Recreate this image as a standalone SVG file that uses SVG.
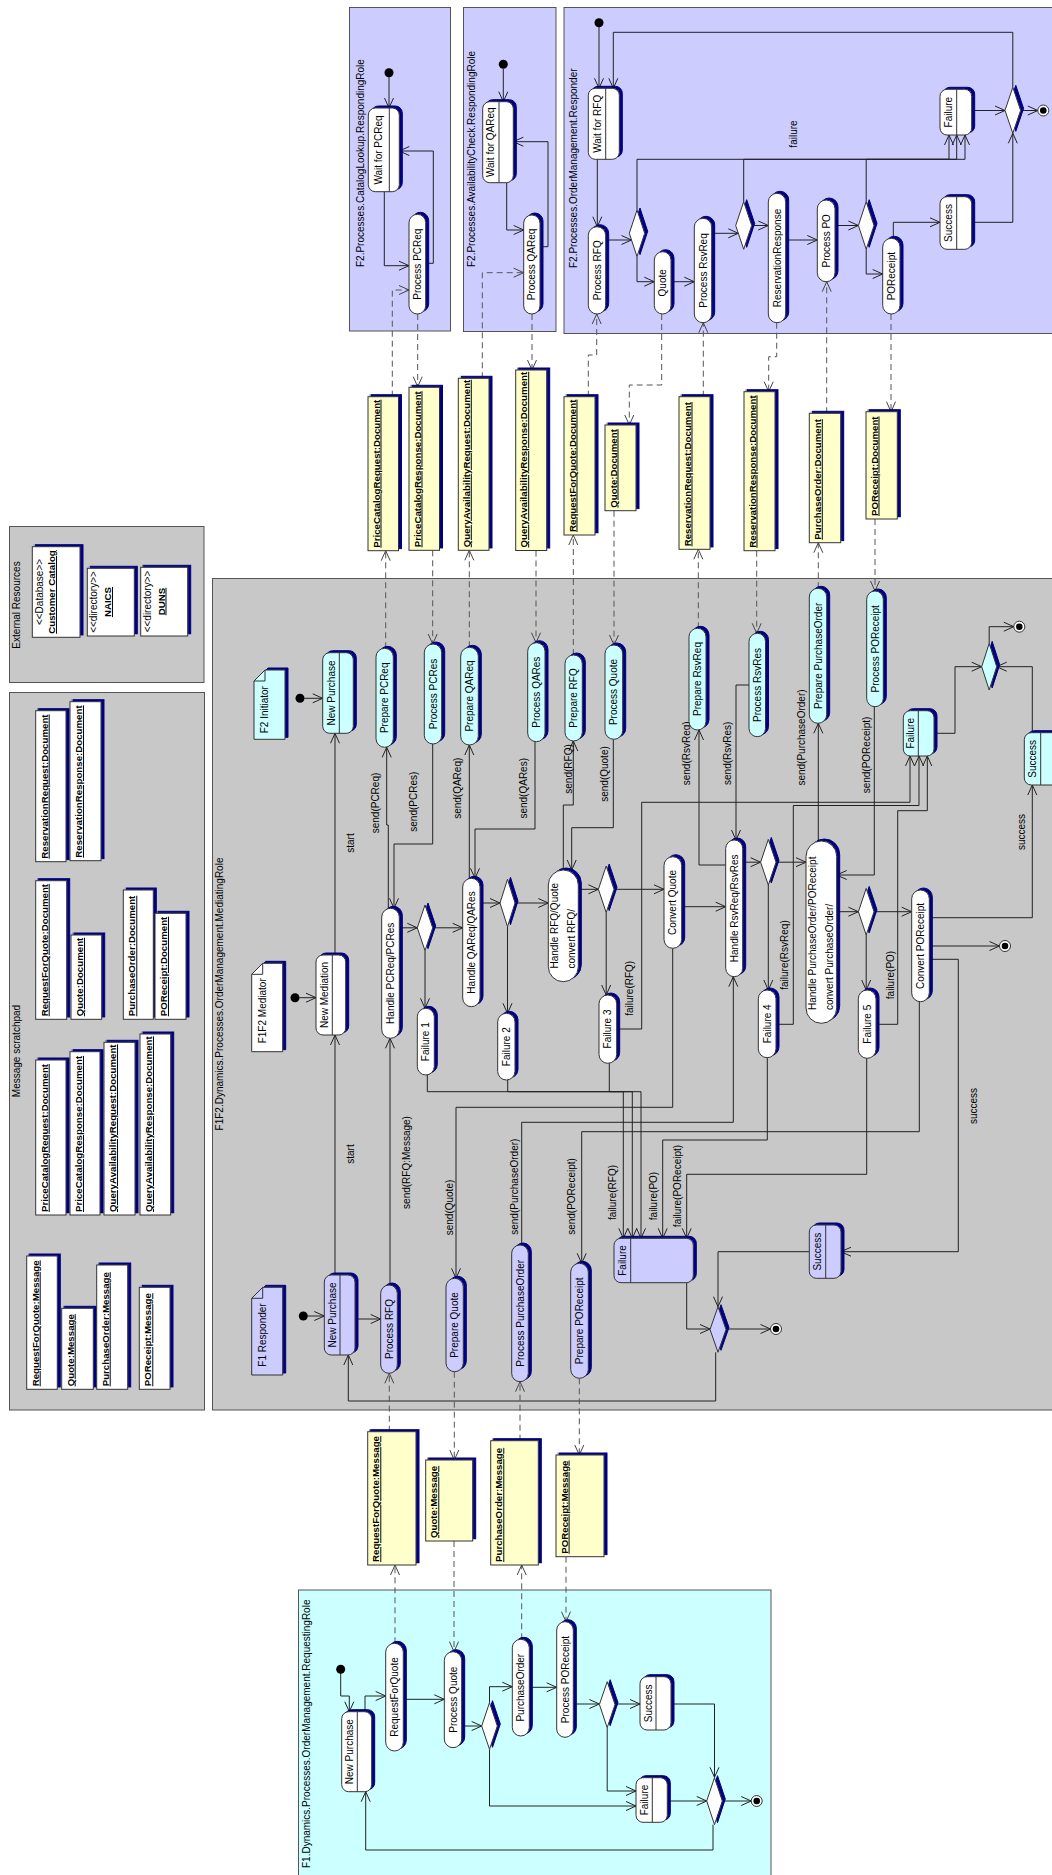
<svg xmlns="http://www.w3.org/2000/svg" width="1052" height="1875" viewBox="0 0 1052 1875">
<defs>
<filter id="sh" x="-50%" y="-50%" width="200%" height="200%">
<feFlood flood-color="#000080"/>
<feComposite in2="SourceAlpha" operator="in"/>
<feOffset dx="2.5" dy="-2.5"/>
<feMerge><feMergeNode/><feMergeNode in="SourceGraphic"/></feMerge>
</filter>
<marker id="ar" viewBox="0 0 12 12" refX="11" refY="6" markerWidth="12" markerHeight="12" markerUnits="userSpaceOnUse" orient="auto"><path d="M1,1.5 L11,6 L1,10.5" fill="none" stroke="#222" stroke-width="1"/></marker>
<marker id="ad" viewBox="0 0 12 12" refX="11" refY="6" markerWidth="12" markerHeight="12" markerUnits="userSpaceOnUse" orient="auto"><path d="M1,1.5 L11,6 L1,10.5" fill="none" stroke="#444" stroke-width="1"/></marker>
<style>
.box{stroke:#555;stroke-width:1}
.n{fill:#fff;stroke:#333;stroke-width:1;filter:url(#sh)}
.cy{fill:#ccffff}
.lv{fill:#ccccff}
.doc{fill:#ffffcc;stroke:#333;stroke-width:1;filter:url(#sh)}
.dv{stroke:#333;stroke-width:1}
.c{fill:none;stroke:#222;stroke-width:1;marker-end:url(#ar)}
.d{fill:none;stroke:#555;stroke-width:1;stroke-dasharray:6 4;marker-end:url(#ad)}
text{font-family:"Liberation Sans",Arial,sans-serif;font-size:10px;fill:#000}
.m{text-anchor:middle;dominant-baseline:central}
.mt{text-anchor:middle}
.b{font-weight:bold;font-size:9.7px;text-decoration:underline}
.dot{fill:#000}
.fo{fill:#fff;stroke:#333;stroke-width:1}
</style>
</defs>
<rect width="1052" height="1875" fill="#fff"/>

<g id="containers">
<rect class="box" x="349.5" y="7.5" width="101" height="323.5" fill="#ccccff"/>
<text transform="translate(364,267) rotate(-90)">F2.Processes.CatalogLookup.RespondingRole</text>
<rect class="box" x="463.5" y="7.5" width="92.5" height="324" fill="#ccccff"/>
<text transform="translate(475,267) rotate(-90)">F2.Processes.AvailabilityCheck.RespondingRole</text>
<rect class="box" x="564" y="7.5" width="500" height="326" fill="#ccccff"/>
<text transform="translate(576.5,268) rotate(-90)">F2.Processes.OrderManagement.Responder</text>
<rect class="box" x="9.5" y="526.5" width="194.5" height="156" fill="#c8c8c8"/>
<text class="mt" transform="translate(19.5,605) rotate(-90)">External Resources</text>
<rect class="box" x="9.5" y="692.5" width="195" height="717.5" fill="#c8c8c8"/>
<text class="mt" transform="translate(19.5,1051) rotate(-90)">Message scratchpad</text>
<rect class="box" x="212.5" y="578.5" width="850" height="831.5" fill="#c8c8c8"/>
<text class="mt" transform="translate(222.5,994) rotate(-90)">F1F2.Dynamics.Processes.OrderManagement.MediatingRole</text>
<rect class="box" x="298.5" y="1590" width="472.5" height="300" fill="#ccffff"/>
<text transform="translate(309.5,1868) rotate(-90)">F1.Dynamics.Processes.OrderManagement.RequestingRole</text>
</g>

<g id="connectors">
<path class="c" d="M389,77 L389,108"/>
<path class="c" d="M384.3,191.7 L384.3,265.7 L409,265.7"/>
<path class="c" d="M425.7,263.3 L433.3,263.3 L433.3,151 L399.3,151"/>
<path class="d" d="M392.3,396.7 L392.3,290 L409,290"/>
<path class="d" d="M417.7,314 L417.7,386.7"/>
<path class="c" d="M503.3,69 L503.3,101.7"/>
<path class="c" d="M506.7,182.7 L506.7,230 L523.7,230"/>
<path class="c" d="M540,246.7 L548,246.7 L548,141.7 L513.3,141.7"/>
<path class="d" d="M482.3,378.3 L482.3,272.7 L523.7,272.7"/>
<path class="d" d="M532,314 L532,370"/>
<path class="c" d="M599,27 L599,88.3"/>
<path class="c" d="M1012.8,87.3 L1012.8,32.3 L613.3,32.3 L613.3,88.3"/>
<path class="c" d="M597.3,159.3 L597.3,226.7"/>
<path class="c" d="M605.7,240 L631.5,240"/>
<path class="c" d="M637,210 L637,159.3 L949,159.3 L949,135"/>
<path class="c" d="M743.7,201.7 L743.7,159.3 L956.7,159.3 L956.7,135"/>
<path class="c" d="M866.2,201.7 L866.2,159.3 L965,159.3 L965,135"/>
<path class="c" d="M637,256.6 L637,281.7 L654.3,281.7"/>
<path class="c" d="M671,281.7 L694.3,281.7"/>
<path class="c" d="M711.7,233.3 L738.3,233.3"/>
<path class="c" d="M751.7,225.5 L768.3,225.5"/>
<path class="c" d="M785.7,240 L817.3,240"/>
<path class="c" d="M835,225.5 L858.4,225.5"/>
<path class="c" d="M866.2,249.3 L866.2,274 L882.7,274"/>
<path class="c" d="M893.3,238.3 L893.3,222.3 L940,222.3"/>
<path class="c" d="M971.7,222.3 L1012.8,222.3 L1012.8,133.3"/>
<path class="c" d="M971.7,110.5 L1005,110.5"/>
<path class="c" d="M1020.6,110.5 L1037.8,110.5"/>
<path class="d" d="M588.3,396.7 L588.3,355 L596.7,355 L596.7,314"/>
<path class="d" d="M661.7,314 L661.7,385 L629.3,385 L629.3,425"/>
<path class="d" d="M703.3,396.7 L703.3,322.7"/>
<path class="d" d="M776.7,322.7 L776.7,356.7 L768.7,356.7 L768.7,391.7"/>
<path class="d" d="M826.7,413.3 L826.7,281.7"/>
<path class="d" d="M891,314 L891,411.7"/>

<path class="d" d="M385.7,648.3 L385.7,550.7"/>
<path class="d" d="M432.7,550.3 L432.7,644"/>
<path class="d" d="M469.3,647.3 L469.3,550.3"/>
<path class="d" d="M536,550.5 L536,642.7"/>
<path class="d" d="M573.3,655 L573.3,535"/>
<path class="d" d="M614,510.7 L614,645"/>
<path class="d" d="M698.3,628.3 L698.3,549.3"/>
<path class="d" d="M756.7,550.7 L756.7,633.3"/>
<path class="d" d="M818.3,588.3 L818.3,542.7"/>
<path class="d" d="M875,519 L875,591"/>

<path class="c" d="M304.5,698.3 L322.7,698.3"/>
<path class="c" d="M299.5,997.7 L316,997.7"/>
<path class="c" d="M307.8,1316 L324.3,1316"/>
<path class="c" d="M335,955 L335,733.3"/>
<path class="c" d="M335,1275 L335,1035"/>
<path class="c" d="M355,1319 L380.7,1319"/>
<path class="c" d="M390,1285 L390,1038.3"/>
<path class="c" d="M388.3,908.3 L388.3,825 L386.7,825 L386.7,747.3"/>
<path class="c" d="M432.7,744 L432.7,844 L394,844 L394,908.3"/>
<path class="c" d="M399.3,927.8 L417.3,927.8"/>
<path class="c" d="M432.7,927.8 L462.7,927.8"/>
<path class="c" d="M425,950.6 L425,1008.3"/>
<path class="c" d="M469.3,878.3 L469.3,745"/>
<path class="c" d="M535,741.7 L535,829 L475,829 L475,878.3"/>
<path class="c" d="M480,903 L500,903"/>
<path class="c" d="M515,903 L548.3,903"/>
<path class="c" d="M507.5,926.7 L507.5,1013.3"/>
<path class="c" d="M563.3,870 L563.3,805 L573.3,805 L573.3,741"/>
<path class="c" d="M613.3,739.3 L613.3,827.7 L571.7,827.7 L571.7,870"/>
<path class="c" d="M578.3,889.3 L598.4,889.3"/>
<path class="c" d="M614,889.3 L664,889.3"/>
<path class="c" d="M606.2,912.6 L606.2,995"/>
<path class="c" d="M681.7,906.7 L725.7,906.7"/>
<path class="c" d="M725.7,865 L699,865 L699,730"/>
<path class="c" d="M749,685 L736,685 L736,840"/>
<path class="c" d="M742.7,862.2 L760.6,862.2"/>
<path class="c" d="M776,862.2 L806,862.2"/>
<path class="c" d="M768.3,885 L768.3,990"/>
<path class="c" d="M818.3,841 L818.3,723.3"/>
<path class="c" d="M874.3,706.7 L874.3,875 L836.7,875"/>
<path class="c" d="M836.7,911.7 L858.4,911.7"/>
<path class="c" d="M874,911.7 L911.7,911.7"/>
<path class="c" d="M866.2,935 L866.2,990"/>
<path class="c" d="M929.3,946 L999.5,946"/>
<path class="c" d="M929.3,917.7 L1032.3,917.7 L1032.3,785"/>
<path class="c" d="M616.7,1029 L641.7,1029 L641.7,802.3 L910,802.3 L910,756"/>
<path class="c" d="M776,1024.3 L793.3,1024.3 L793.3,805.5 L919,805.5 L919,756"/>
<path class="c" d="M876,1024.3 L897.7,1024.3 L897.7,810.7 L927.3,810.7 L927.3,756"/>
<path class="c" d="M934,733.3 L955,733.3 L955,666.7 L981.7,666.7"/>
<path class="c" d="M1032.3,732.7 L1032.3,666.7 L996.7,666.7"/>
<path class="c" d="M989.2,643.4 L989.2,626.7 L1013.8,626.7"/>
<path class="c" d="M427.3,1075 L427.3,1091.7 L623.3,1091.7 L623.3,1238.3"/>
<path class="c" d="M507.7,1080 L507.7,1091.7 L632.3,1091.7 L632.3,1238.3"/>
<path class="c" d="M609.3,1063.3 L609.3,1091.7 L641,1091.7 L641,1238.3"/>
<path class="c" d="M767.3,1057.7 L767.3,1140 L662.7,1140 L662.7,1238.3"/>
<path class="c" d="M866.7,1058.3 L866.7,1174.3 L686.7,1174.3 L686.7,1238.3"/>
<path class="c" d="M919.3,1001.7 L919.3,1131.7 L581.7,1131.7 L581.7,1263.3"/>
<path class="c" d="M672.7,948.3 L672.7,1107.3 L456,1107.3 L456,1278.3"/>
<path class="c" d="M521.7,1245 L521.7,1122.3 L733.3,1122.3 L733.3,976.7"/>
<path class="c" d="M686.7,1282.7 L686.7,1329 L710,1329"/>
<path class="c" d="M809.3,1251.7 L718,1251.7 L718,1306.7"/>
<path class="c" d="M726,1329 L770.5,1329"/>
<path class="c" d="M715.7,1352.3 L715.7,1401 L348.3,1401 L348.3,1355"/>
<path class="c" d="M929.3,959.3 L958.3,959.3 L958.3,1251.7 L841,1251.7"/>

<path class="d" d="M389.3,1431.7 L389.3,1373.3"/>
<path class="d" d="M454.3,1371.7 L454.3,1460"/>
<path class="d" d="M520,1440.7 L520,1381.7"/>
<path class="d" d="M579.3,1378.3 L579.3,1455"/>
<path class="d" d="M395,1643.3 L395,1565"/>
<path class="d" d="M454,1541 L454,1651.7"/>
<path class="d" d="M521.7,1639.3 L521.7,1565"/>
<path class="d" d="M566,1556.7 L566,1621.7"/>

<path class="c" d="M340.7,1673 L340.7,1696 L349.3,1696 L349.3,1711.7"/>
<path class="c" d="M365,1711.7 L365,1696 L385.7,1696"/>
<path class="c" d="M403.3,1699.3 L444.3,1699.3"/>
<path class="c" d="M461.7,1726 L481.7,1726"/>
<path class="c" d="M489.5,1702.7 L489.5,1686.7 L512.3,1686.7"/>
<path class="c" d="M489.5,1749.3 L489.5,1806 L636,1806"/>
<path class="c" d="M529.3,1687.3 L556.7,1687.3"/>
<path class="c" d="M573.3,1704 L599.4,1704"/>
<path class="c" d="M615,1704 L640,1704"/>
<path class="c" d="M607.2,1727.7 L607.2,1791 L636,1791"/>
<path class="c" d="M671,1704 L714.5,1704 L714.5,1777.3"/>
<path class="c" d="M667.3,1801 L706.7,1801"/>
<path class="c" d="M722.3,1801 L751.2,1801"/>
<path class="c" d="M713,1824.7 L713,1850 L365.7,1850 L365.7,1791.7"/>

<g id="labels">
<text class="m" transform="translate(793.3,134) rotate(-90)">failure</text>
<text class="m" transform="translate(350.8,843) rotate(-90)">start</text>
<text class="m" transform="translate(350.8,1154) rotate(-90)">start</text>
<text class="m" transform="translate(406.7,1162.5) rotate(-90)">send(RFQ:Message)</text>
<text class="m" transform="translate(375.8,803) rotate(-90)">send(PCReq)</text>
<text class="m" transform="translate(413.3,801.7) rotate(-90)">send(PCRes)</text>
<text class="m" transform="translate(457.5,788.3) rotate(-90)">send(QAReq)</text>
<text class="m" transform="translate(523.3,788.3) rotate(-90)">send(QARes)</text>
<text class="m" transform="translate(568.3,769) rotate(-90)">send(RFQ)</text>
<text class="m" transform="translate(604.2,774) rotate(-90)">send(Quote)</text>
<text class="m" transform="translate(686.2,753.3) rotate(-90)">send(RsvReq)</text>
<text class="m" transform="translate(727.5,753.3) rotate(-90)">send(RsvRes)</text>
<text class="m" transform="translate(801,737.5) rotate(-90)">send(PurchaseOrder)</text>
<text class="m" transform="translate(866,755) rotate(-90)">send(POReceipt)</text>
<text class="m" transform="translate(1021.3,832) rotate(-90)">success</text>
<text class="m" transform="translate(629.2,988.3) rotate(-90)">failure(RFQ)</text>
<text class="m" transform="translate(784.2,955) rotate(-90)">failure(RsvReq)</text>
<text class="m" transform="translate(890.8,975) rotate(-90)">failure(PO)</text>
<text class="m" transform="translate(973.7,1106) rotate(-90)">success</text>
<text class="m" transform="translate(449.2,1207.5) rotate(-90)">send(Quote)</text>
<text class="m" transform="translate(514.2,1186.7) rotate(-90)">send(PurchaseOrder)</text>
<text class="m" transform="translate(571.8,1196.5) rotate(-90)">send(POReceipt)</text>
<text class="m" transform="translate(612.3,1192.5) rotate(-90)">failure(RFQ)</text>
<text class="m" transform="translate(653.3,1196) rotate(-90)">failure(PO)</text>
<text class="m" transform="translate(677.3,1186) rotate(-90)">failure(POReceipt)</text>
</g>
</g>

<!-- F2 CatalogLookup -->
<g id="cat-init"><circle class="dot" cx="389" cy="72.7" r="4.5"/></g>
<g id="cat-wait"><rect class="n" x="368.3" y="108" width="31" height="83.7" rx="7"/><line class="dv" x1="389.3" y1="108" x2="389.3" y2="191.7"/><text class="m" transform="translate(378.8,150) rotate(-90)">Wait for PCReq</text></g>
<g id="cat-proc"><rect class="n" x="409" y="214.3" width="16.7" height="99.7" rx="8.35"/><text class="m" transform="translate(417.3,264.2) rotate(-90)">Process PCReq</text></g>
<!-- F2 AvailabilityCheck -->
<g id="av-init"><circle class="dot" cx="503.3" cy="64.3" r="4.5"/></g>
<g id="av-wait"><rect class="n" x="482.7" y="101.7" width="30.6" height="81" rx="7"/><line class="dv" x1="499" y1="101.7" x2="499" y2="182.7"/><text class="m" transform="translate(490.8,142.2) rotate(-90)">Wait for QAReq</text></g>
<g id="av-proc"><rect class="n" x="523.7" y="215" width="16.3" height="99" rx="8.15"/><text class="m" transform="translate(531.8,264.5) rotate(-90)">Process QAReq</text></g>
<!-- F2 OrderManagement Responder -->
<g id="r-init"><circle class="dot" cx="599" cy="22.7" r="4.5"/></g>
<g id="r-wait"><rect class="n" x="588.3" y="88.3" width="31" height="71" rx="7"/><line class="dv" x1="605.7" y1="88.3" x2="605.7" y2="159.3"/><text class="m" transform="translate(597,123.8) rotate(-90)">Wait for RFQ</text></g>
<g id="r-procrfq"><rect class="n" x="588.3" y="226.7" width="17.4" height="87.3" rx="8.7"/><text class="m" transform="translate(597,270.3) rotate(-90)">Process RFQ</text></g>
<g id="r-d1"><polygon class="n" points="637,210 644.7,233.3 637,256.6 629.3,233.3"/></g>
<g id="r-quote"><rect class="n" x="654.3" y="251.7" width="16.7" height="62.3" rx="8.35"/><text class="m" transform="translate(662.7,282.8) rotate(-90)">Quote</text></g>
<g id="r-procrsv"><rect class="n" x="694.3" y="218.3" width="17.4" height="104.4" rx="8.7"/><text class="m" transform="translate(703,270.5) rotate(-90)">Process RsvReq</text></g>
<g id="r-d2"><polygon class="n" points="743.7,201.7 751.7,225.5 743.7,249.3 735.7,225.5"/></g>
<g id="r-resresp"><rect class="n" x="768.3" y="193.3" width="17.4" height="129.4" rx="8.7"/><text class="m" transform="translate(777,258) rotate(-90)">ReservationResponse</text></g>
<g id="r-procpo"><rect class="n" x="817.3" y="200" width="17.7" height="81.7" rx="8.85"/><text class="m" transform="translate(826.2,240.8) rotate(-90)">Process PO</text></g>
<g id="r-d3"><polygon class="n" points="866.2,201.7 874,225.5 866.2,249.3 858.4,225.5"/></g>
<g id="r-porcpt"><rect class="n" x="882.7" y="238.3" width="17.3" height="75.7" rx="8.65"/><text class="m" transform="translate(891.3,276.2) rotate(-90)">POReceipt</text></g>
<g id="r-success"><rect class="n" x="940" y="196.7" width="31.7" height="52.6" rx="7"/><line class="dv" x1="956.7" y1="196.7" x2="956.7" y2="249.3"/><text class="m" transform="translate(948.3,223) rotate(-90)">Success</text></g>
<g id="r-failure"><rect class="n" x="940" y="89.3" width="31.7" height="45.7" rx="7"/><line class="dv" x1="956.7" y1="89.3" x2="956.7" y2="135"/><text class="m" transform="translate(948.3,112.2) rotate(-90)">Failure</text></g>
<g id="r-dfin"><polygon class="n" points="1012.8,87.3 1020.6,110.4 1012.8,133.3 1005,110.4"/></g>
<g id="r-final"><circle class="fo" cx="1043.3" cy="110.5" r="5.5"/><circle class="dot" cx="1043.3" cy="110.5" r="3.3"/></g>

<!-- F2 documents -->
<g id="doc-pcreq"><rect class="doc" x="368" y="396.7" width="30.5" height="154"/><text class="b" transform="translate(379.5,547.7) rotate(-90)">PriceCatalogRequest:Document</text></g>
<g id="doc-pcres"><rect class="doc" x="409" y="387.3" width="30.5" height="163"/><text class="b" transform="translate(420.5,547.3) rotate(-90)">PriceCatalogResponse:Document</text></g>
<g id="doc-qareq"><rect class="doc" x="458.3" y="378.3" width="30.7" height="172"/><text class="b" transform="translate(469.8,547.3) rotate(-90)">QueryAvailabilityRequest:Document</text></g>
<g id="doc-qares"><rect class="doc" x="515.7" y="370" width="31" height="180.5"/><text class="b" transform="translate(527.2,547.5) rotate(-90)">QueryAvailabilityResponse:Document</text></g>
<g id="doc-rfq"><rect class="doc" x="564" y="396.7" width="31" height="138.3"/><text class="b" transform="translate(575.5,532) rotate(-90)">RequestForQuote:Document</text></g>
<g id="doc-quote"><rect class="doc" x="605" y="425" width="31" height="85.7"/><text class="b" transform="translate(616.5,507.7) rotate(-90)">Quote:Document</text></g>
<g id="doc-rsvreq"><rect class="doc" x="679" y="396.7" width="31" height="152.6"/><text class="b" transform="translate(690.5,546.3) rotate(-90)">ReservationRequest:Document</text></g>
<g id="doc-rsvres"><rect class="doc" x="744" y="391.7" width="31" height="159"/><text class="b" transform="translate(755.5,547.7) rotate(-90)">ReservationResponse:Document</text></g>
<g id="doc-po"><rect class="doc" x="809.3" y="413.3" width="31.4" height="129.4"/><text class="b" transform="translate(820.8,539.7) rotate(-90)">PurchaseOrder:Document</text></g>
<g id="doc-porcpt"><rect class="doc" x="866" y="411.7" width="31.3" height="107.3"/><text class="b" transform="translate(877.5,516) rotate(-90)">POReceipt:Document</text></g>

<!-- External resources -->
<g id="ext-catalog"><rect class="n" x="32.3" y="546.7" width="47.7" height="90.6"/><text class="mt" transform="translate(43,592) rotate(-90)">&lt;&lt;Database&gt;&gt;</text><text class="mt b" transform="translate(55,592) rotate(-90)">Customer Catalog</text></g>
<g id="ext-naics"><rect class="n" x="87.3" y="568.3" width="47" height="67.7"/><text class="mt" transform="translate(97,602) rotate(-90)">&lt;&lt;directory&gt;&gt;</text><text class="mt b" transform="translate(111,602) rotate(-90)">NAICS</text></g>
<g id="ext-duns"><rect class="n" x="140.7" y="567.3" width="47" height="68.7"/><text class="mt" transform="translate(150.5,601.5) rotate(-90)">&lt;&lt;directory&gt;&gt;</text><text class="mt b" transform="translate(164.5,601.5) rotate(-90)">DUNS</text></g>

<!-- Message scratchpad -->
<g id="sp-rsvreq"><rect class="n" x="35.7" y="710.7" width="30.3" height="151"/><text class="b" transform="translate(47.7,858.7) rotate(-90)">ReservationRequest:Document</text></g>
<g id="sp-rsvres"><rect class="n" x="70" y="701.7" width="31" height="159"/><text class="b" transform="translate(82,857.7) rotate(-90)">ReservationResponse:Document</text></g>
<g id="sp-rfqdoc"><rect class="n" x="35.7" y="880.7" width="31" height="138.6"/><text class="b" transform="translate(47.7,1016.3) rotate(-90)">RequestForQuote:Document</text></g>
<g id="sp-quotedoc"><rect class="n" x="71" y="935" width="30.7" height="84.3"/><text class="b" transform="translate(83,1016.3) rotate(-90)">Quote:Document</text></g>
<g id="sp-podoc"><rect class="n" x="123.3" y="890" width="30" height="129.3"/><text class="b" transform="translate(135.3,1016.3) rotate(-90)">PurchaseOrder:Document</text></g>
<g id="sp-porcptdoc"><rect class="n" x="155" y="913.3" width="31" height="106"/><text class="b" transform="translate(167,1016.3) rotate(-90)">POReceipt:Document</text></g>
<g id="sp-pcreq"><rect class="n" x="35.7" y="1060" width="30.3" height="155"/><text class="b" transform="translate(47.7,1212) rotate(-90)">PriceCatalogRequest:Document</text></g>
<g id="sp-pcres"><rect class="n" x="70" y="1051.7" width="30" height="163.3"/><text class="b" transform="translate(82,1212) rotate(-90)">PriceCatalogResponse:Document</text></g>
<g id="sp-qareq"><rect class="n" x="104" y="1042.3" width="31" height="172.7"/><text class="b" transform="translate(116,1212) rotate(-90)">QueryAvailabilityRequest:Document</text></g>
<g id="sp-qares"><rect class="n" x="140" y="1034" width="30.7" height="181"/><text class="b" transform="translate(152,1212) rotate(-90)">QueryAvailabilityResponse:Document</text></g>
<g id="sp-rfqmsg"><rect class="n" x="26.7" y="1256" width="30.6" height="133.3"/><text class="b" transform="translate(38.7,1386.3) rotate(-90)">RequestForQuote:Message</text></g>
<g id="sp-quotemsg"><rect class="n" x="61.7" y="1308.3" width="31.6" height="81"/><text class="b" transform="translate(73.7,1386.3) rotate(-90)">Quote:Message</text></g>
<g id="sp-pomsg"><rect class="n" x="96.7" y="1265" width="31" height="124.3"/><text class="b" transform="translate(108.7,1386.3) rotate(-90)">PurchaseOrder:Message</text></g>
<g id="sp-porcptmsg"><rect class="n" x="139.3" y="1287.3" width="30.7" height="102"/><text class="b" transform="translate(151.3,1386.3) rotate(-90)">POReceipt:Message</text></g>

<!-- Mediating role -->
<g id="note-f2"><path class="n cy" d="M254,681 L265,670 L285,670 L285,739.3 L254,739.3 Z"/><path d="M254,681 L265,681 L265,670" fill="none" stroke="#333"/><text transform="translate(268,733.3) rotate(-90)">F2 Initiator</text></g>
<g id="note-med"><path class="n" d="M251.7,974.3 L262.7,963.3 L282.7,963.3 L282.7,1051.7 L251.7,1051.7 Z"/><path d="M251.7,974.3 L262.7,974.3 L262.7,963.3" fill="none" stroke="#333"/><text transform="translate(266,1043.3) rotate(-90)">F1F2 Mediator</text></g>
<g id="note-f1"><path class="n lv" d="M251.7,1298.3 L262.7,1287.3 L282.7,1287.3 L282.7,1375 L251.7,1375 Z"/><path d="M251.7,1298.3 L262.7,1298.3 L262.7,1287.3" fill="none" stroke="#333"/><text transform="translate(266,1366.7) rotate(-90)">F1 Responder</text></g>
<g id="m-init-f2"><circle class="dot" cx="300" cy="698.3" r="4.5"/></g>
<g id="m-init-med"><circle class="dot" cx="295" cy="997.7" r="4.5"/></g>
<g id="m-init-f1"><circle class="dot" cx="303.3" cy="1316" r="4.5"/></g>
<g id="m-newpurch-f2"><rect class="n cy" x="322.7" y="652.7" width="30.6" height="80.6" rx="7"/><line class="dv" x1="339.3" y1="652.7" x2="339.3" y2="733.3"/><text class="m" transform="translate(331,693) rotate(-90)">New Purchase</text></g>
<g id="m-newmed"><rect class="n" x="316" y="955" width="29.7" height="80" rx="7"/><line class="dv" x1="332.3" y1="955" x2="332.3" y2="1035"/><text class="m" transform="translate(324.2,995) rotate(-90)">New Mediation</text></g>
<g id="m-newpurch-f1"><rect class="n lv" x="324.3" y="1275" width="30.7" height="80" rx="7"/><line class="dv" x1="340" y1="1275" x2="340" y2="1355"/><text class="m" transform="translate(332.2,1315) rotate(-90)">New Purchase</text></g>
<g id="m-prep-pcreq"><rect class="n cy" x="376" y="648.3" width="17.3" height="99" rx="8.65"/><text class="m" transform="translate(384.7,697.8) rotate(-90)">Prepare PCReq</text></g>
<g id="m-proc-pcres"><rect class="n cy" x="424.3" y="644" width="17.4" height="100" rx="8.7"/><text class="m" transform="translate(433,694) rotate(-90)">Process PCRes</text></g>
<g id="m-prep-qareq"><rect class="n cy" x="460.7" y="647.3" width="17.6" height="97.7" rx="8.8"/><text class="m" transform="translate(469.5,696) rotate(-90)">Prepare QAReq</text></g>
<g id="m-proc-qares"><rect class="n cy" x="527.7" y="642.7" width="17.3" height="99" rx="8.65"/><text class="m" transform="translate(536.3,692.2) rotate(-90)">Process QARes</text></g>
<g id="m-prep-rfq"><rect class="n cy" x="565" y="655" width="17.3" height="86" rx="8.65"/><text class="m" transform="translate(573.7,698) rotate(-90)">Prepare RFQ</text></g>
<g id="m-proc-quote"><rect class="n cy" x="605" y="645" width="17.7" height="94.3" rx="8.85"/><text class="m" transform="translate(613.8,692) rotate(-90)">Process Quote</text></g>
<g id="m-prep-rsvreq"><rect class="n cy" x="689" y="628.3" width="17" height="101.7" rx="8.5"/><text class="m" transform="translate(697.5,679) rotate(-90)">Prepare RsvReq</text></g>
<g id="m-proc-rsvres"><rect class="n cy" x="749" y="633.3" width="16.5" height="103.4" rx="8.25"/><text class="m" transform="translate(757.2,685) rotate(-90)">Process RsvRes</text></g>
<g id="m-prep-po"><rect class="n cy" x="809.3" y="588.3" width="17.4" height="135" rx="8.7"/><text class="m" transform="translate(818,655.8) rotate(-90)">Prepare PurchaseOrder</text></g>
<g id="m-proc-porcpt"><rect class="n cy" x="866.7" y="591" width="16.6" height="115.7" rx="8.3"/><text class="m" transform="translate(875,648.8) rotate(-90)">Process POReceipt</text></g>
<g id="m-failure-f2"><rect class="n cy" x="903.3" y="710.7" width="30.7" height="45.3" rx="7"/><line class="dv" x1="918.3" y1="710.7" x2="918.3" y2="756"/><text class="m" transform="translate(910.8,733.3) rotate(-90)">Failure</text></g>
<g id="m-success-f2"><rect class="n cy" x="1024.3" y="732.7" width="40" height="52.3" rx="7"/><line class="dv" x1="1040.7" y1="732.7" x2="1040.7" y2="785"/><text class="m" transform="translate(1032.5,758.8) rotate(-90)">Success</text></g>
<g id="m-dfin-f2"><polygon class="n cy" points="989.2,643.4 996.7,666.7 989.2,690 981.7,666.7"/></g>
<g id="m-final-f2"><circle class="fo" cx="1019.3" cy="626.7" r="5.5"/><circle class="dot" cx="1019.3" cy="626.7" r="3.3"/></g>
<g id="m-handle-pc"><rect class="n" x="381.7" y="908.3" width="17.6" height="130" rx="8.8"/><text class="m" transform="translate(390.5,973.3) rotate(-90)">Handle PCReq/PCRes</text></g>
<g id="m-da"><polygon class="n" points="425,905 432.7,927.8 425,950.6 417.3,927.8"/></g>
<g id="m-fail1"><rect class="n" x="417.3" y="1008.3" width="17" height="66.7" rx="8.5"/><text class="m" transform="translate(425.8,1041.7) rotate(-90)">Failure 1</text></g>
<g id="m-handle-qa"><rect class="n" x="462.7" y="878.3" width="17.3" height="128.4" rx="8.65"/><text class="m" transform="translate(471.3,942.5) rotate(-90)">Handle QAReq/QARes</text></g>
<g id="m-db"><polygon class="n" points="507.5,879.3 515,903 507.5,926.7 500,903"/></g>
<g id="m-fail2"><rect class="n" x="497.7" y="1013.3" width="17.3" height="66.7" rx="8.65"/><text class="m" transform="translate(506.3,1046.7) rotate(-90)">Failure 2</text></g>
<g id="m-handle-rfq"><rect class="n" x="548.3" y="870" width="30" height="111.7" rx="15"/><text transform="translate(558,968.5) rotate(-90)">Handle RFQ/Quote</text><text transform="translate(574.5,968.5) rotate(-90)">convert RFQ/</text></g>
<g id="m-dc"><polygon class="n" points="606.2,866 614,889.3 606.2,912.6 598.4,889.3"/></g>
<g id="m-fail3"><rect class="n" x="599" y="995" width="17.7" height="68.3" rx="8.85"/><text class="m" transform="translate(607.8,1029) rotate(-90)">Failure 3</text></g>
<g id="m-conv-quote"><rect class="n" x="664" y="856.7" width="17.7" height="91.6" rx="8.85"/><text class="m" transform="translate(672.8,902.5) rotate(-90)">Convert Quote</text></g>
<g id="m-handle-rsv"><rect class="n" x="725.7" y="840" width="17" height="136.7" rx="8.5"/><text class="m" transform="translate(734.2,908.3) rotate(-90)">Handle RsvReq/RsvRes</text></g>
<g id="m-dd"><polygon class="n" points="768.3,839.4 776,862.2 768.3,885 760.6,862.2"/></g>
<g id="m-fail4"><rect class="n" x="758.3" y="990" width="17.7" height="67.7" rx="8.85"/><text class="m" transform="translate(767.2,1023.8) rotate(-90)">Failure 4</text></g>
<g id="m-handle-po"><rect class="n" x="806" y="841" width="30.7" height="182.3" rx="15.35"/><text transform="translate(816,1010) rotate(-90)">Handle PurchaseOrder/POReceipt</text><text transform="translate(832.5,1010) rotate(-90)">convert PurchaseOrder/</text></g>
<g id="m-de"><polygon class="n" points="866.2,888.4 874,911.7 866.2,935 858.4,911.7"/></g>
<g id="m-fail5"><rect class="n" x="858.3" y="990" width="17.7" height="68.3" rx="8.85"/><text class="m" transform="translate(867.2,1024.2) rotate(-90)">Failure 5</text></g>
<g id="m-conv-porcpt"><rect class="n" x="911.7" y="890" width="17.6" height="111.7" rx="8.8"/><text class="m" transform="translate(920.5,946) rotate(-90)">Convert POReceipt</text></g>
<g id="m-final-med"><circle class="fo" cx="1005" cy="946" r="5.5"/><circle class="dot" cx="1005" cy="946" r="3.3"/></g>
<g id="m-proc-rfq-f1"><rect class="n lv" x="380.7" y="1285" width="16.6" height="88.3" rx="8.3"/><text class="m" transform="translate(389,1329) rotate(-90)">Process RFQ</text></g>
<g id="m-prep-quote"><rect class="n lv" x="446" y="1278.3" width="17.3" height="93.4" rx="8.65"/><text class="m" transform="translate(454.7,1325) rotate(-90)">Prepare Quote</text></g>
<g id="m-proc-po"><rect class="n lv" x="511.7" y="1245" width="16.6" height="136.7" rx="8.3"/><text class="m" transform="translate(520,1313.3) rotate(-90)">Process PurchaseOrder</text></g>
<g id="m-prep-porcpt"><rect class="n lv" x="570.7" y="1263.3" width="17.6" height="115" rx="8.8"/><text class="m" transform="translate(579.5,1320.8) rotate(-90)">Prepare POReceipt</text></g>
<g id="m-failure-f1"><rect class="n lv" x="614" y="1238.3" width="79.3" height="44.4" rx="7"/><line class="dv" x1="630.7" y1="1238.3" x2="630.7" y2="1282.7"/><text class="m" transform="translate(622.3,1260.5) rotate(-90)">Failure</text></g>
<g id="m-success-f1"><rect class="n lv" x="809.3" y="1225" width="31.7" height="53.3" rx="7"/><line class="dv" x1="825.7" y1="1225" x2="825.7" y2="1278.3"/><text class="m" transform="translate(817.5,1251.7) rotate(-90)">Success</text></g>
<g id="m-dfin-f1"><polygon class="n lv" points="718,1306.7 726,1329.5 718,1352.3 710,1329.5"/></g>
<g id="m-final-f1"><circle class="fo" cx="776" cy="1329" r="5.5"/><circle class="dot" cx="776" cy="1329" r="3.3"/></g>

<!-- F1 messages -->
<g id="msg-rfq"><rect class="doc" x="367.7" y="1431.7" width="48.3" height="133.3"/><text class="b" transform="translate(379.3,1562) rotate(-90)">RequestForQuote:Message</text></g>
<g id="msg-quote"><rect class="doc" x="425.7" y="1460" width="47" height="81"/><text class="b" transform="translate(437.3,1538) rotate(-90)">Quote:Message</text></g>
<g id="msg-po"><rect class="doc" x="490.7" y="1440.7" width="47.6" height="124.3"/><text class="b" transform="translate(502.3,1562) rotate(-90)">PurchaseOrder:Message</text></g>
<g id="msg-porcpt"><rect class="doc" x="556" y="1455" width="48" height="101.7"/><text class="b" transform="translate(567.6,1553.7) rotate(-90)">POReceipt:Message</text></g>

<!-- F1 Requesting role -->
<g id="q-init"><circle class="dot" cx="340.7" cy="1669.3" r="4.5"/></g>
<g id="q-newpurch"><rect class="n" x="341.7" y="1711.7" width="30" height="80" rx="7"/><line class="dv" x1="357.3" y1="1711.7" x2="357.3" y2="1791.7"/><text class="m" transform="translate(349.5,1751.7) rotate(-90)">New Purchase</text></g>
<g id="q-rfq"><rect class="n" x="385.7" y="1643.3" width="17.6" height="107.7" rx="8.8"/><text class="m" transform="translate(394.5,1697) rotate(-90)">RequestForQuote</text></g>
<g id="q-procquote"><rect class="n" x="444.3" y="1651.7" width="17.4" height="96" rx="8.7"/><text class="m" transform="translate(453,1699.7) rotate(-90)">Process Quote</text></g>
<g id="q-df"><polygon class="n" points="489.5,1702.7 497.3,1726 489.5,1749.3 481.7,1726"/></g>
<g id="q-po"><rect class="n" x="512.3" y="1639.3" width="17" height="96.7" rx="8.5"/><text class="m" transform="translate(520.8,1687.7) rotate(-90)">PurchaseOrder</text></g>
<g id="q-procporcpt"><rect class="n" x="556.7" y="1621.7" width="16.6" height="115.6" rx="8.3"/><text class="m" transform="translate(565,1679.5) rotate(-90)">Process POReceipt</text></g>
<g id="q-dg"><polygon class="n" points="607.2,1681.7 615,1704.5 607.2,1727.7 599.4,1704.5"/></g>
<g id="q-success"><rect class="n" x="640" y="1676.7" width="31" height="53.3" rx="7"/><line class="dv" x1="656" y1="1676.7" x2="656" y2="1730"/><text class="m" transform="translate(648,1703.3) rotate(-90)">Success</text></g>
<g id="q-failure"><rect class="n" x="636" y="1777.7" width="31.3" height="44.6" rx="7"/><line class="dv" x1="652.3" y1="1777.7" x2="652.3" y2="1822.3"/><text class="m" transform="translate(644.2,1800) rotate(-90)">Failure</text></g>
<g id="q-dh"><polygon class="n" points="714.5,1777.7 722.3,1801 714.5,1824.7 706.7,1801"/></g>
<g id="q-final"><circle class="fo" cx="756.7" cy="1801" r="5.5"/><circle class="dot" cx="756.7" cy="1801" r="3.3"/></g>
</svg>
